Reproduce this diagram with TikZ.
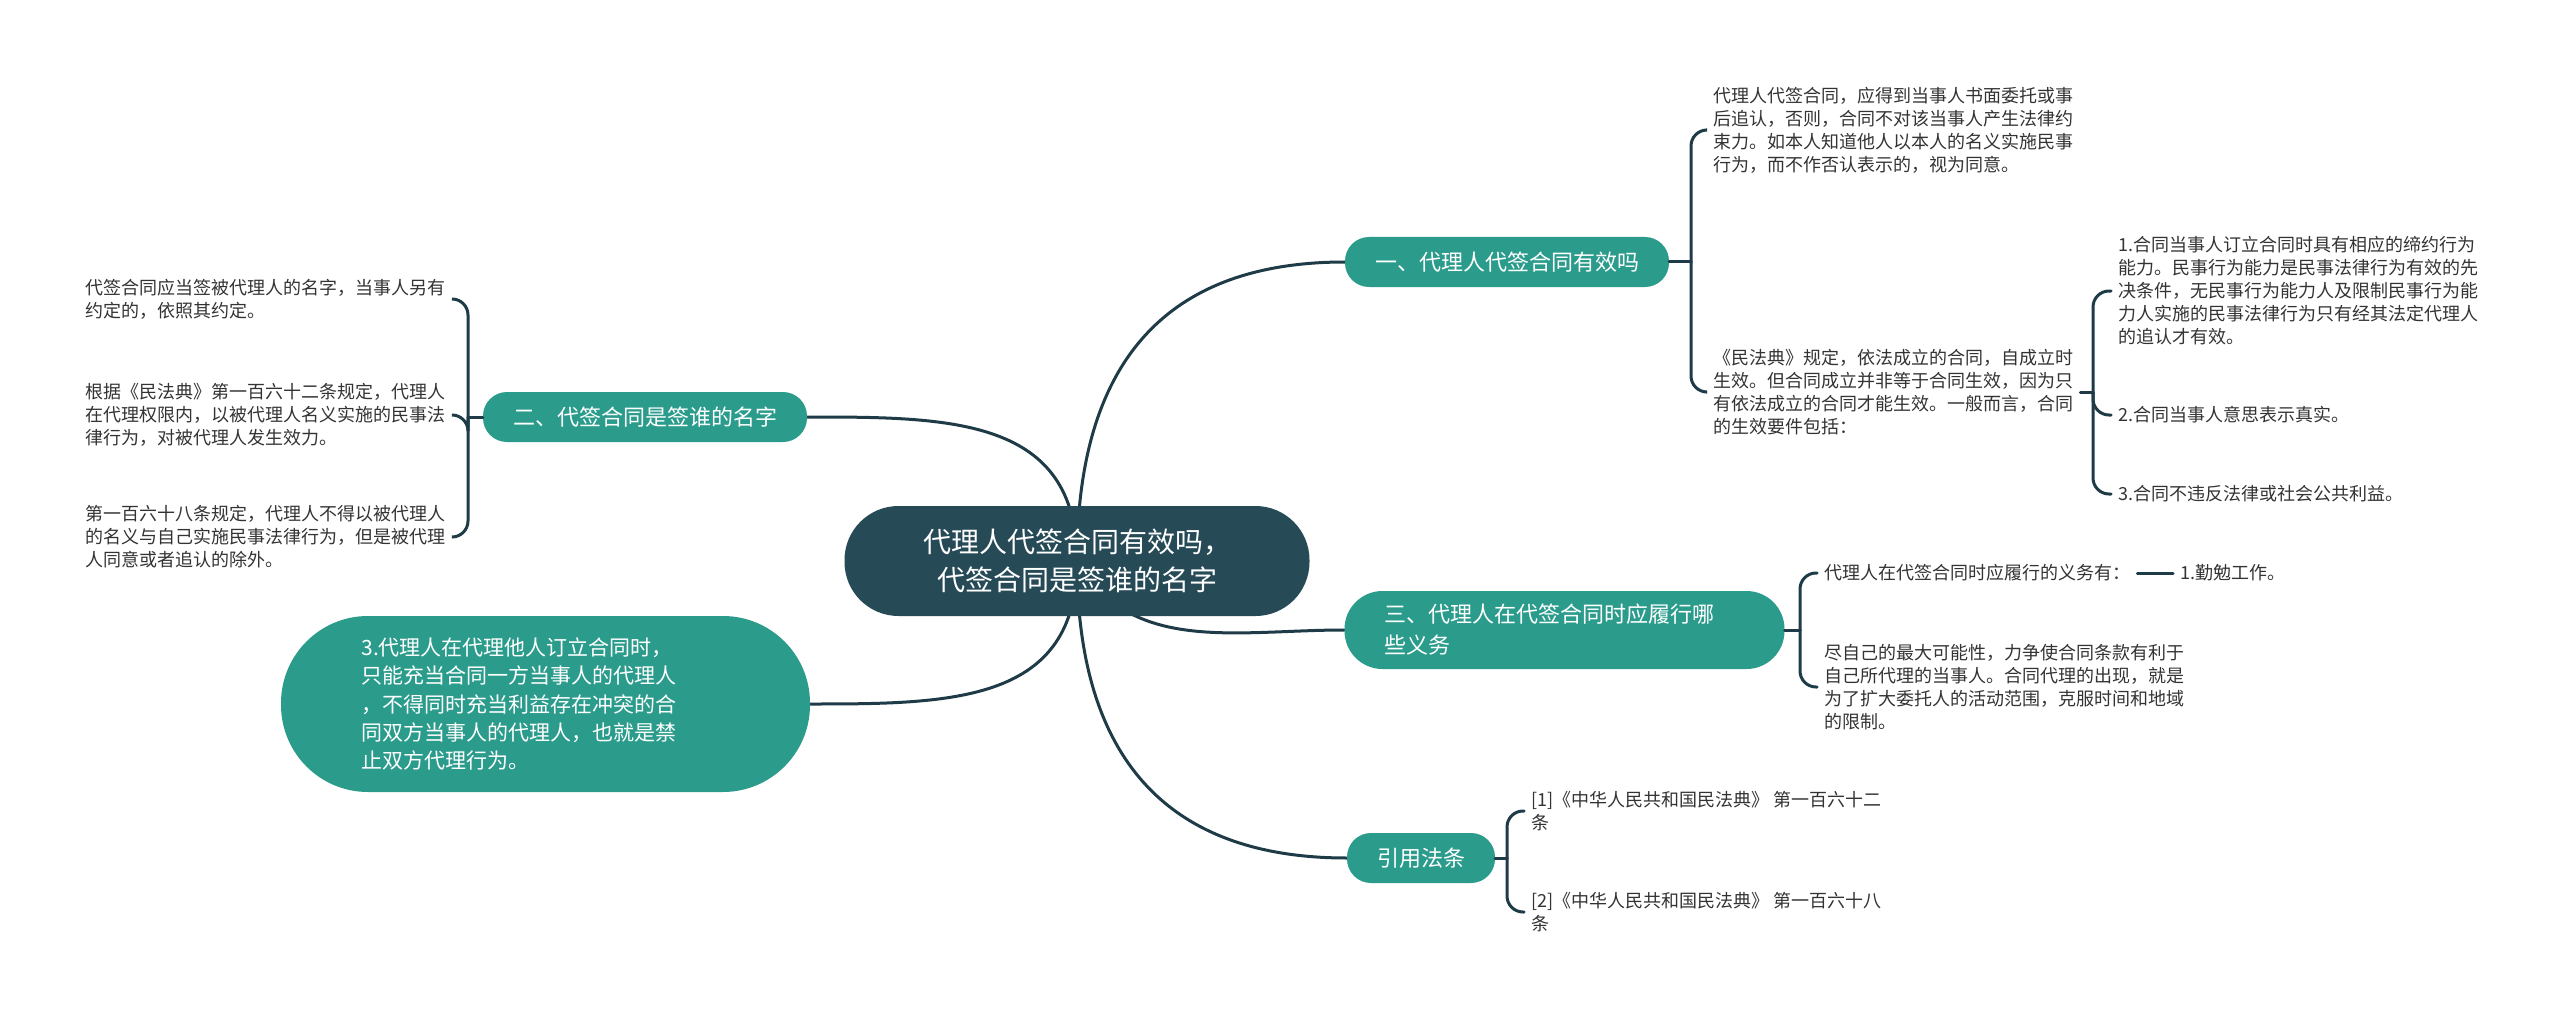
\documentclass[tikz,border=0pt]{standalone}
\usepackage{fontspec}
\setmainfont{Noto Sans CJK SC}
\usetikzlibrary{backgrounds}
\definecolor{rootcol}{HTML}{274A57}
\definecolor{branchcol}{HTML}{2B9C8C}
\definecolor{linecol}{HTML}{1E3B47}
\definecolor{leafcol}{HTML}{333333}

\begin{document}
\begin{tikzpicture}[
  x=1pt, y=-1pt,
  % 连线
  link/.style={draw=linecol, line width=3pt, line cap=round},
  bracket/.style={link, rounded corners=16pt},
  % 中心主题
  root/.style={fill=rootcol, text=white, align=center, font=\fontsize{28}{38}\selectfont,
    minimum width=465pt, minimum height=110pt, rounded corners=54pt},
  % 分支主题
  branch/.style={fill=branchcol, text=white, font=\fontsize{22}{31}\selectfont,
    inner xsep=30pt, minimum height=50pt, rounded corners=24pt},
  bigbranch/.style={branch, align=left, font=\fontsize{21}{28.3}\selectfont,
    text width=368pt, minimum width=529pt, minimum height=176pt, rounded corners=87pt},
  % 叶子文本
  leaf/.style={anchor=west, align=left, text=leafcol, inner xsep=7pt, inner ysep=0pt,
    font=\fontsize{18}{23}\selectfont}
]
  \useasboundingbox (0,0) rectangle (2560,1019);

  % 中心和分支
  \node[root] (root) at (1077,561) {代理人代签合同有效吗，\\代签合同是签谁的名字};
  \node[branch] (b1) at (1507,262) {一、代理人代签合同有效吗};
  \node[branch] (b2) at (645,417) {二、代签合同是签谁的名字};
  \node[branch, align=left, text width=360pt, inner xsep=40pt, minimum height=78pt,
    rounded corners=38pt] (b3) at (1564.5,630) {三、代理人在代签合同时应履行哪\\些义务};
  \node[branch] (b4) at (1421,858) {引用法条};
  \node[bigbranch] (b5) at (545.5,704) {3.代理人在代理他人订立合同时，\\只能充当合同一方当事人的代理人\\，不得同时充当利益存在冲突的合\\同双方当事人的代理人，也就是禁\\止双方代理行为。};

  % 一
  \node[leaf] (l11) at (1706,130) {代理人代签合同，应得到当事人书面委托或事\\后追认，否则，合同不对该当事人产生法律约\\束力。如本人知道他人以本人的名义实施民事\\行为，而不作否认表示的，视为同意。};
  \node[leaf] (l12) at (1706,392) {《民法典》规定，依法成立的合同，自成立时\\生效。但合同成立并非等于合同生效，因为只\\有依法成立的合同才能生效。一般而言，合同\\的生效要件包括：};
  \node[leaf] (l121) at (2111,291) {1.合同当事人订立合同时具有相应的缔约行为\\能力。民事行为能力是民事法律行为有效的先\\决条件，无民事行为能力人及限制民事行为能\\力人实施的民事法律行为只有经其法定代理人\\的追认才有效。};
  \node[leaf] (l122) at (2111,415) {2.合同当事人意思表示真实。};
  \node[leaf] (l123) at (2111,494) {3.合同不违反法律或社会公共利益。};

  % 二
  \node[leaf] (l21) at (78,299) {代签合同应当签被代理人的名字，当事人另有\\约定的，依照其约定。};
  \node[leaf] (l22) at (78,415) {根据《民法典》第一百六十二条规定，代理人\\在代理权限内，以被代理人名义实施的民事法\\律行为，对被代理人发生效力。};
  \node[leaf] (l23) at (78,537) {第一百六十八条规定，代理人不得以被代理人\\的名义与自己实施民事法律行为，但是被代理\\人同意或者追认的除外。};

  % 三
  \node[leaf] (l31) at (1817,573) {代理人在代签合同时应履行的义务有：};
  \node[leaf] (l311) at (2173,573) {1.勤勉工作。};
  \node[leaf] (l32) at (1817,687) {尽自己的最大可能性，力争使合同条款有利于\\自己所代理的当事人。合同代理的出现，就是\\为了扩大委托人的活动范围，克服时间和地域\\的限制。};

  % 引用法条
  \node[leaf] (l41) at (1524,811) {[1]《中华人民共和国民法典》 第一百六十二\\条};
  \node[leaf] (l42) at (1524,912) {[2]《中华人民共和国民法典》 第一百六十八\\条};

  \coordinate (j1) at (1691,262);
  \coordinate (j12) at (2093,392);
  \coordinate (j2) at (468,417);
  \coordinate (j3) at (1800,630);
  \coordinate (j4) at (1507,858);

  \begin{scope}[on background layer]
    \draw[link] (root.center) to[out=90, in=180, looseness=1.2] (b1.west);
    \draw[link] (root.center) to[out=90, in=0, looseness=1.2] (b2.east);
    \draw[link] (root.center) to[out=-60, in=180] (b3.west);
    \draw[link] (root.center) to[out=-90, in=180, looseness=1.2] (b4.west);
    \draw[link] (root.center) to[out=-90, in=0, looseness=1.2] (b5.east);
  \end{scope}

  \draw[link] (b1.east) -- (j1);
  \draw[bracket] (j1) |- (l11.west);
  \draw[bracket] (j1) |- (l12.west);
  \draw[link] (l12.east) -- (j12);
  \draw[bracket] (j12) |- (l121.west);
  \draw[bracket] (j12) |- (l122.west);
  \draw[bracket] (j12) |- (l123.west);

  \draw[link] (b2.west) -- (j2);
  \draw[bracket] (j2) |- (l21.east);
  \draw[bracket] (j2) |- (l22.east);
  \draw[bracket] (j2) |- (l23.east);

  \draw[link] (b3.east) -- (j3);
  \draw[bracket] (j3) |- (l31.west);
  \draw[bracket] (j3) |- (l32.west);
  \draw[link] (l31.east) -- (l311.west);

  \draw[link] (b4.east) -- (j4);
  \draw[bracket] (j4) |- (l41.west);
  \draw[bracket] (j4) |- (l42.west);
\end{tikzpicture}
\end{document}
